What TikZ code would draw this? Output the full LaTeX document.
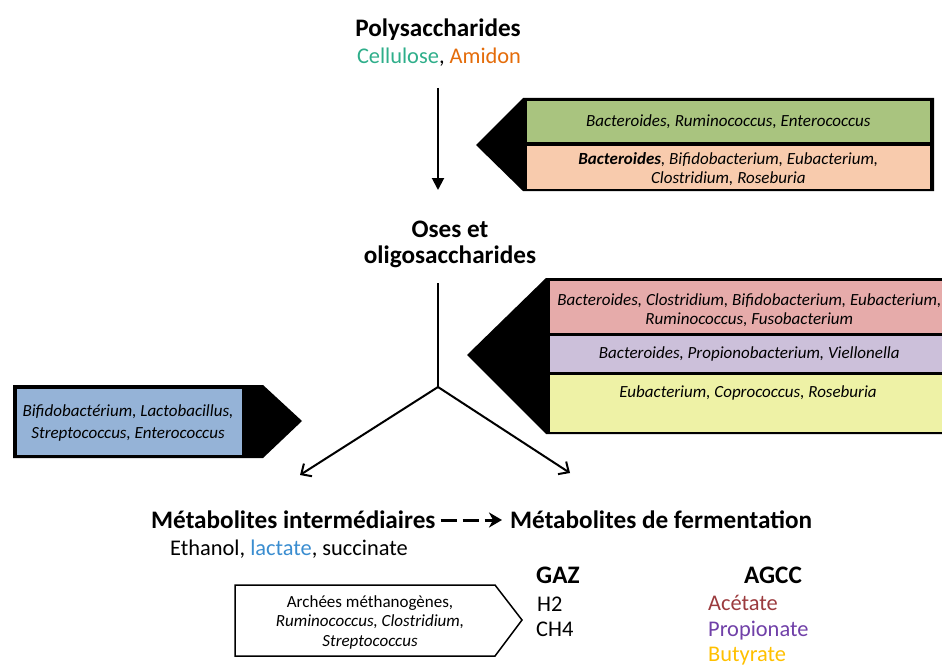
\documentclass[tikz,border=0pt]{standalone}
\usepackage{fontspec}
\setmainfont{Carlito}
\usetikzlibrary{arrows.meta}
\definecolor{cteal}{HTML}{2EAE8A}
\definecolor{corange}{HTML}{E46C0A}
\definecolor{cblue}{HTML}{3A8DD0}
\definecolor{cacet}{HTML}{9B3B3E}
\definecolor{cprop}{HTML}{7040A8}
\definecolor{cbut}{HTML}{FFC000}
\definecolor{bgreen}{HTML}{A9C47F}
\definecolor{borange}{HTML}{F8CBAD}
\definecolor{bpink}{HTML}{E6ABAA}
\definecolor{bpurple}{HTML}{CCC0DA}
\definecolor{byellow}{HTML}{EEF2A6}
\definecolor{bblue}{HTML}{95B3D7}
\begin{document}
\begin{tikzpicture}[x=1pt,y=-1pt,
  head/.style={font=\fontsize{25.2}{26}\selectfont\bfseries, align=center, inner sep=0, anchor=base},
  sub/.style={font=\fontsize{22.4}{26}\selectfont, inner sep=0, anchor=base west},
  lab/.style={font=\fontsize{17}{19}\selectfont\itshape, align=center, inner sep=0},
  colbox/.style={draw=black, line width=0.6, inner sep=0, anchor=north west},
  conn/.style={line width=2}]
\useasboundingbox (0,0) rectangle (942,666);
% titles
\node[head] (poly) at (438,37) {Polysaccharides};
\node[sub, anchor=base] (cell) at (439,64) {\textcolor{cteal}{Cellulose}, \textcolor{corange}{Amidon}};
\node[head] (oses) at (450,263) {Oses et\\oligosaccharides};
\coordinate (v1top) at (438,88);
\coordinate (v1bot) at (438,190);
\coordinate (v2top) at (438,283);
\coordinate (j) at (438,387);
\coordinate (lt) at (300,475);
\coordinate (rt) at (570,473);
\draw[conn, -{Triangle[length=12,width=12]}] (v1top) -- (v1bot);
\draw[conn] (v2top) -- (j);
\draw[conn, -{Straight Barb[length=8,width=15]}] (j) -- (lt);
\draw[conn, -{Straight Barb[length=8,width=15]}] (j) -- (rt);
% top group
\fill (476,145) -- (523,98) -- (934,98) -- (934,191) -- (523,191) -- cycle;
\node[colbox, fill=bgreen, minimum width=404, minimum height=42] (g1) at (526,100) {};
\node[colbox, fill=borange, minimum width=404, minimum height=44] (g2) at (526,145) {};
\node[lab] (t1) at (g1.center) {Bacteroides, Ruminococcus, Enterococcus};
\node[lab] (t2) at ([yshift=-2]g2.center) {\textbf{Bacteroides}, Bifidobacterium, Eubacterium,\\Clostridium, Roseburia};
% middle group
\fill (467,355) -- (546,278) -- (950,278) -- (950,434) -- (546,434) -- cycle;
\node[colbox, fill=bpink, minimum width=400, minimum height=53] (m1) at (549,280) {};
\node[colbox, fill=bpurple, minimum width=400, minimum height=37] (m2) at (549,335) {};
\node[colbox, fill=byellow, minimum width=400, minimum height=58] (m3) at (549,374) {};
\node[lab] (t3) at ([yshift=-3]m1.center) {Bacteroides, Clostridium, Bifidobacterium, Eubacterium,\\Ruminococcus, Fusobacterium};
\node[lab] (t4) at (m2.center) {Bacteroides, Propionobacterium, Viellonella};
\node[lab] (t5) at (748,393) {Eubacterium, Coprococcus, Roseburia};
% left group
\fill (13,385) -- (263,385) -- (302,421) -- (263,458) -- (13,458) -- cycle;
\node[colbox, fill=bblue, minimum width=226, minimum height=67] (b1) at (16,388) {};
\node[lab, font=\fontsize{17}{22}\selectfont\itshape] (t6) at (128,423) {Bifidobact\'erium, Lactobacillus,\\Streptococcus, Enterococcus};
% bottom
\node[head, anchor=base west] (mi) at (151,528) {M\'etabolites interm\'ediaires};
\node[head, anchor=base west] (mf) at (510,528) {M\'etabolites de fermentation};
\draw[line width=3, dash pattern=on 16 off 6, -{Stealth[length=13,width=15,inset=4]}] ([xshift=5,yshift=8]mi.base east) -- ([xshift=-8,yshift=8]mf.base west);
\node[sub] (eth) at (170,555) {Ethanol, \textcolor{cblue}{lactate}, succinate};
\draw[line width=1.5] (235,585) -- (495,585) -- (522,620) -- (495,656) -- (235,656) -- cycle;
\node[lab, font=\fontsize{17}{19.5}\selectfont] (t7) at (370,622) {\upshape Arch\'ees m\'ethanog\`enes,\\\itshape Ruminococcus, Clostridium,\\\itshape Streptococcus};
\node[head, anchor=base west] (gaz) at (536,583) {GAZ};
\node[sub] (h2) at (537,611) {H2};
\node[sub] (ch4) at (536,636) {CH4};
\node[head] (agcc) at (773,583) {AGCC};
\node[sub, text=cacet] (ac) at (708,610) {Ac\'etate};
\node[sub, text=cprop] (pr) at (708,636) {Propionate};
\node[sub, text=cbut] (bu) at (708,661) {Butyrate};
\end{tikzpicture}
\end{document}
